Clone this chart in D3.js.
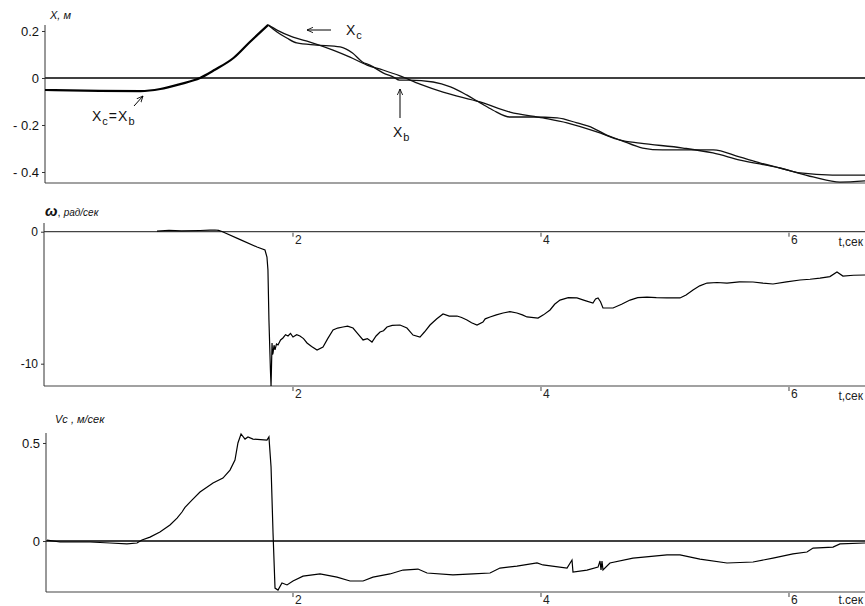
<!DOCTYPE html>
<html><head><meta charset="utf-8">
<script src="https://cdn.jsdelivr.net/npm/d3@7/dist/d3.min.js"></script>
<style>
body{margin:0;background:#fff;}
svg{display:block;font-family:"Liberation Sans",Arial,sans-serif;}
</style></head><body>
<svg id="c" width="865" height="606"></svg>
<script>
// ---------- data ----------
const tMax = 6.613;
const timeTicks = [2, 4, 6];
const xTickLabels = ["0.2", "0", "- 0.2", "- 0.4"];
const xTickValues = [0.2, 0, -0.2, -0.4];
const wTickValues = [0, -10];
const wTickLabels = ["0", "-10"];
const vTickValues = [0.5, 0];
const vTickLabels = ["0.5", "0"];

// common part Xc = Xb (t, m)
const xShared = [[0,-0.051],[0.44,-0.055],[0.77,-0.056],[0.93,-0.047],[1.09,-0.026],[1.25,0],[1.37,0.035],[1.52,0.085],[1.65,0.152],[1.80,0.226]];
// Xc (smoother)
const xcData = [[1.80,0.226],[1.871,0.204],[2.0,0.174],[2.137,0.153],[2.323,0.119],[2.46,0.089],[2.597,0.055],[2.726,0.034],[2.863,0.009],[3.024,-0.026],[3.21,-0.06],[3.508,-0.102],[3.75,-0.145],[4.016,-0.170],[4.21,-0.191],[4.476,-0.234],[4.637,-0.264],[4.798,-0.277],[5.145,-0.298],[5.387,-0.319],[5.605,-0.349],[5.927,-0.383],[6.194,-0.421],[6.411,-0.443],[6.613,-0.438]];
// Xb (wavy)
const xbData = [[1.80,0.226],[1.871,0.196],[1.95,0.170],[2.03,0.149],[2.19,0.140],[2.38,0.132],[2.48,0.106],[2.56,0.068],[2.62,0.055],[2.73,0.021],[2.81,0.004],[2.86,-0.009],[2.94,-0.009],[3.13,-0.017],[3.27,-0.038],[3.40,-0.072],[3.51,-0.106],[3.61,-0.136],[3.75,-0.166],[3.94,-0.166],[4.13,-0.170],[4.29,-0.191],[4.42,-0.213],[4.53,-0.243],[4.64,-0.264],[4.82,-0.298],[4.98,-0.306],[5.15,-0.306],[5.39,-0.306],[5.60,-0.336],[5.77,-0.362],[5.93,-0.383],[6.09,-0.404],[6.35,-0.413],[6.613,-0.413]];
// omega, rad/s
const omegaData = [[0.903,0.05],[1.0,0.10],[1.1,0.06],[1.25,0.09],[1.33,0.12],[1.371,0.13],[1.40,0.10],[1.427,0.02],[1.57,-0.58],[1.71,-1.16],[1.774,-1.39],[1.79,-1.92],[1.798,-2.9],[1.806,-6.69],[1.818,-10.5],[1.823,-11.69],[1.831,-8.43],[1.835,-9.3],[1.839,-9.19],[1.847,-8.6],[1.855,-8.96],[1.867,-8.5],[1.879,-8.58],[1.90,-8.2],[1.919,-8.05],[1.94,-7.8],[1.96,-7.90],[1.98,-7.7],[2.0,-7.98],[2.03,-7.8],[2.056,-7.90],[2.085,-8.1],[2.113,-8.43],[2.15,-8.7],[2.194,-8.96],[2.242,-8.73],[2.28,-8.1],[2.323,-7.45],[2.36,-7.3],[2.403,-7.22],[2.44,-7.15],[2.484,-7.30],[2.52,-7.7],[2.565,-8.20],[2.60,-8.1],[2.637,-8.36],[2.67,-7.9],[2.702,-7.60],[2.73,-7.5],[2.758,-7.22],[2.80,-7.1],[2.863,-7.07],[2.919,-7.30],[2.968,-7.83],[3.024,-7.98],[3.06,-7.6],[3.105,-7.07],[3.16,-6.6],[3.21,-6.23],[3.26,-6.4],[3.323,-6.39],[3.36,-6.5],[3.403,-6.69],[3.44,-6.9],[3.484,-7.07],[3.532,-6.84],[3.55,-6.6],[3.589,-6.46],[3.64,-6.3],[3.694,-6.16],[3.75,-6.05],[3.806,-6.16],[3.85,-6.3],[3.887,-6.46],[3.976,-6.54],[4.02,-6.3],[4.073,-5.93],[4.11,-5.5],[4.153,-5.18],[4.22,-5.0],[4.29,-5.02],[4.35,-5.2],[4.419,-5.40],[4.44,-5.1],[4.46,-5.02],[4.48,-5.3],[4.50,-5.78],[4.581,-5.78],[4.65,-5.5],[4.718,-5.18],[4.78,-5.0],[4.855,-4.95],[4.93,-5.0],[5.016,-5.02],[5.121,-5.02],[5.17,-4.8],[5.226,-4.42],[5.28,-4.1],[5.339,-3.89],[5.42,-3.85],[5.50,-3.89],[5.60,-3.8],[5.71,-3.81],[5.79,-3.9],[5.871,-3.96],[5.98,-3.8],[6.089,-3.66],[6.17,-3.6],[6.25,-3.51],[6.33,-3.4],[6.387,-3.05],[6.435,-3.36],[6.52,-3.3],[6.613,-3.28]];
// Vc, m/s
const vcData = [[0.016,0.005],[0.121,-0.005],[0.363,-0.005],[0.524,-0.010],[0.661,-0.015],[0.742,-0.010],[0.782,0.005],[0.847,0.020],[0.927,0.046],[1.008,0.082],[1.065,0.117],[1.105,0.148],[1.129,0.172],[1.185,0.209],[1.25,0.250],[1.355,0.296],[1.435,0.321],[1.492,0.362],[1.532,0.413],[1.556,0.500],[1.581,0.546],[1.613,0.520],[1.637,0.531],[1.677,0.520],[1.79,0.515],[1.806,0.531],[1.823,0.378],[1.839,0.041],[1.855,-0.240],[1.879,-0.250],[1.911,-0.214],[1.952,-0.224],[2.0,-0.204],[2.081,-0.179],[2.218,-0.168],[2.355,-0.184],[2.46,-0.204],[2.565,-0.204],[2.645,-0.184],[2.782,-0.168],[2.887,-0.148],[3.008,-0.143],[3.081,-0.163],[3.29,-0.173],[3.452,-0.168],[3.589,-0.163],[3.669,-0.138],[3.806,-0.128],[3.968,-0.112],[4.016,-0.122],[4.21,-0.138],[4.25,-0.097],[4.258,-0.158],[4.371,-0.148],[4.46,-0.133],[4.476,-0.102],[4.484,-0.148],[4.492,-0.102],[4.50,-0.148],[4.556,-0.112],[4.742,-0.087],[5.016,-0.071],[5.121,-0.071],[5.282,-0.092],[5.50,-0.112],[5.71,-0.107],[5.871,-0.087],[6.032,-0.066],[6.145,-0.056],[6.194,-0.036],[6.355,-0.031],[6.411,-0.015],[6.613,-0.010]];

// ---------- drawing ----------
const svg = d3.select("#c");
svg.append("rect").attr("width",865).attr("height",606).attr("fill","#fff");
const defs = svg.append("defs");
defs.append("marker").attr("id","ah").attr("viewBox","0 0 10 10").attr("refX",9).attr("refY",5)
  .attr("markerWidth",7).attr("markerHeight",7).attr("orient","auto-start-reverse")
  .append("path").attr("d","M0,1 L9,5 L0,9").attr("fill","none").attr("stroke","#000").attr("stroke-width",1.2);

const x = d3.scaleLinear().domain([0, tMax]).range([45, 865]);
const yX = d3.scaleLinear().domain([-0.4468, 0.2255]).range([183, 25]);
const yW = d3.scaleLinear().domain([-11.69, 0.66]).range([386, 223]);
const yV = d3.scaleLinear().domain([-0.26, 0.551]).range([592, 433]);

function yAxis(scale, vals, labels, xpos, fs){
  const g = svg.append("g").attr("transform",`translate(${xpos},0)`);
  g.call(d3.axisLeft(scale).tickValues(vals).tickSize(3).tickFormat((d,i)=>labels[i]).tickPadding(3));
  g.select(".domain").attr("stroke","#333").attr("d",`M0,${scale.range()[1]}V${scale.range()[0]}`);
  g.selectAll(".tick line").attr("stroke","#333");
  g.selectAll(".tick text").attr("font-size",fs).attr("fill","#111").attr("font-family","'Liberation Sans',Arial,sans-serif");
  return g;
}
function hLine(y, x0, w, color){
  svg.append("line").attr("x1",x0).attr("x2",865).attr("y1",y).attr("y2",y).attr("stroke",color||"#333").attr("stroke-width",w||1.2);
}
function timeTicksAt(y, lab){
  const g = svg.append("g");
  g.selectAll("line").data(timeTicks).join("line")
    .attr("x1",d=>x(d)).attr("x2",d=>x(d)).attr("y1",y+1).attr("y2",y+5).attr("stroke","#444").attr("stroke-width",1);
  g.selectAll("text").data(timeTicks).join("text")
    .attr("x",d=>x(d)+2).attr("y",y+12).attr("font-size",12).attr("fill","#222").text(d=>d);
  g.append("text").attr("x",863).attr("y",Math.min(y+14,604)).attr("text-anchor","end").attr("font-size",12).attr("fill","#222").text(lab);
}
const line = (ys, curve) => d3.line().x(d=>x(d[0])).y(d=>ys(d[1])).curve(curve||d3.curveLinear);

// ----- top: X -----
hLine(yX(0), 45, 1.4, "#000");
hLine(183, 45, 1.2, "#444");
yAxis(yX, xTickValues, xTickLabels, 45, 13);
svg.append("path").datum(xShared).attr("d",line(yX,d3.curveMonotoneX)).attr("fill","none").attr("stroke","#000").attr("stroke-width",2.2);
svg.append("path").datum(xcData).attr("d",line(yX,d3.curveMonotoneX)).attr("fill","none").attr("stroke","#111").attr("stroke-width",1.3);
svg.append("path").datum(xbData).attr("d",line(yX,d3.curveMonotoneX)).attr("fill","none").attr("stroke","#111").attr("stroke-width",1.3);

svg.append("text").attr("x",50).attr("y",19).attr("font-size",11).attr("font-style","italic").attr("fill","#111").text("X,  м");
// annotations
svg.append("line").attr("x1",331).attr("y1",30).attr("x2",307).attr("y2",30).attr("stroke","#000").attr("stroke-width",1).attr("marker-end","url(#ah)");
let t1 = svg.append("text").attr("x",346).attr("y",35).attr("font-size",14).attr("fill","#111");
t1.append("tspan").text("X");
t1.append("tspan").attr("dy",4).attr("font-size",11).attr("dx",1).text("c");
svg.append("line").attr("x1",400).attr("y1",118).attr("x2",400).attr("y2",89).attr("stroke","#000").attr("stroke-width",1).attr("marker-end","url(#ah)");
let t2 = svg.append("text").attr("x",393).attr("y",137).attr("font-size",14).attr("fill","#111");
t2.append("tspan").text("X");
t2.append("tspan").attr("dy",4).attr("font-size",11).attr("dx",1).text("b");
let t3 = svg.append("text").attr("x",92).attr("y",121).attr("font-size",14).attr("fill","#111");
t3.append("tspan").text("X");
t3.append("tspan").attr("dy",4).attr("font-size",11).attr("dx",1).text("c");
t3.append("tspan").attr("dy",-4).attr("dx",1).text("=");
t3.append("tspan").attr("dx",1).text("X");
t3.append("tspan").attr("dy",4).attr("font-size",11).attr("dx",1).text("b");
svg.append("line").attr("x1",134).attr("y1",106).attr("x2",143).attr("y2",96).attr("stroke","#000").attr("stroke-width",1).attr("marker-end","url(#ah)");

// ----- middle: omega -----
hLine(yW(0), 44, 1.2, "#444");
hLine(386, 44, 1.2, "#444");
yAxis(yW, wTickValues, wTickLabels, 44, 12);
timeTicksAt(yW(0), "t,сек");
timeTicksAt(386, "t,сек");
svg.append("path").datum(omegaData).attr("d",line(yW)).attr("fill","none").attr("stroke","#000").attr("stroke-width",1.2);
let t4 = svg.append("text").attr("x",45).attr("y",216).attr("fill","#111");
t4.append("tspan").attr("font-size",15).attr("font-weight","bold").attr("font-style","italic").text("ω");
t4.append("tspan").attr("font-size",11).text(",  ");
t4.append("tspan").attr("font-size",10).attr("font-style","italic").text("рад/сек");

// ----- bottom: Vc -----
hLine(yV(0), 46, 1.4, "#000");
hLine(592, 46, 1.2, "#444");
yAxis(yV, vTickValues, vTickLabels, 46, 13);
timeTicksAt(592, "t.сек");
svg.append("path").datum(vcData).attr("d",line(yV)).attr("fill","none").attr("stroke","#000").attr("stroke-width",1.2);
svg.append("text").attr("x",55).attr("y",423).attr("font-size",11).attr("font-style","italic").attr("fill","#111").text("Vc ,  м/сек");
</script>
</body></html>
